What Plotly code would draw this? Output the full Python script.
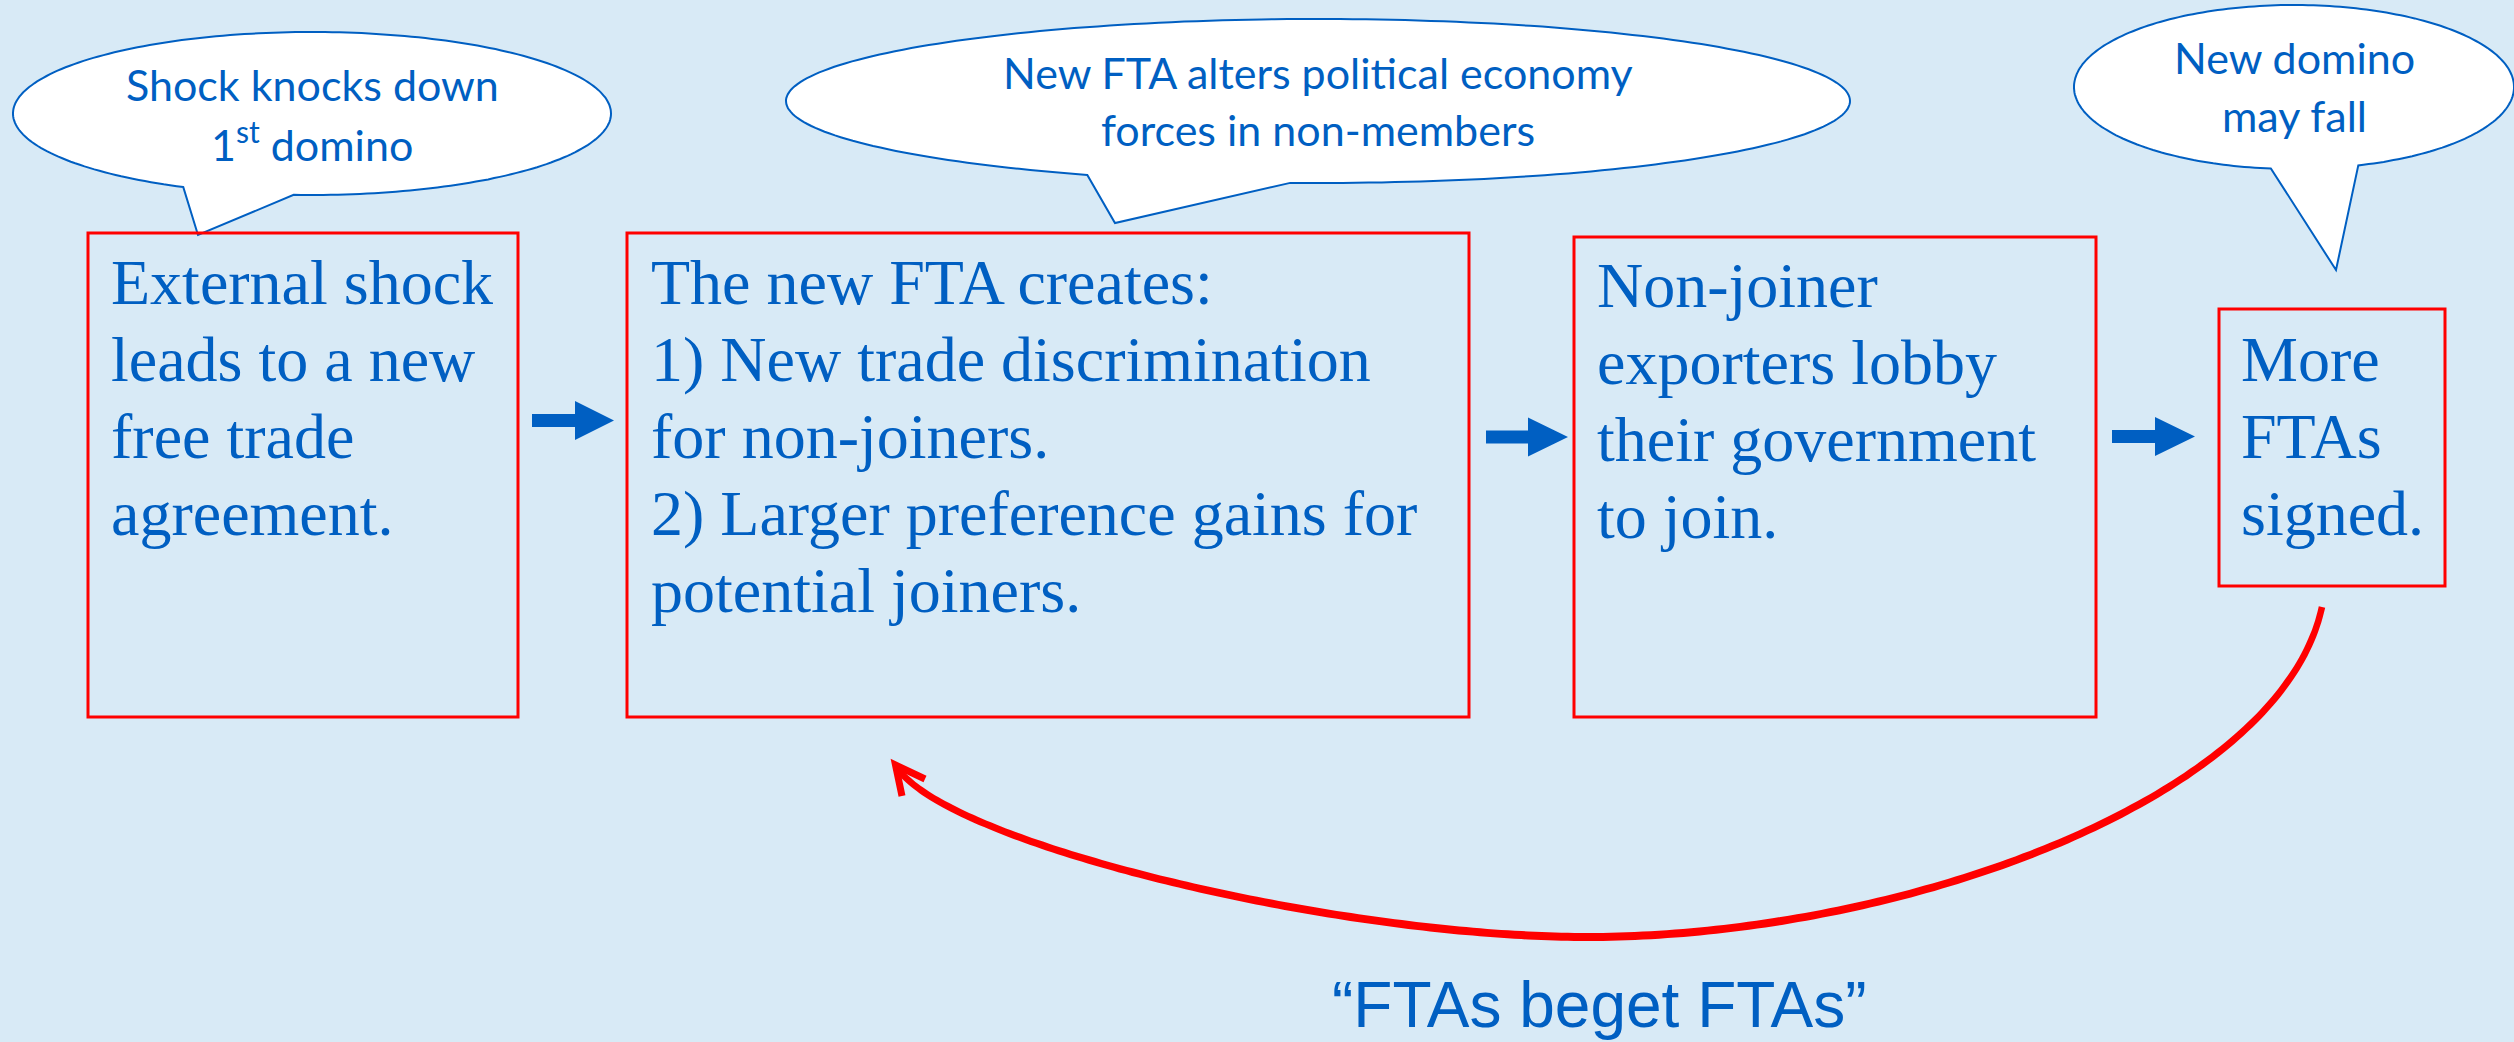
import numpy as np
import plotly.graph_objects as go

# ---------------- content ----------------
box_lines = [
    ["External shock", "leads to a new", "free trade", "agreement."],
    ["The new FTA creates:", "1) New trade discrimination", "for non-joiners.",
     "2) Larger preference gains for", "potential joiners."],
    ["Non-joiner", "exporters lobby", "their government", "to join."],
    ["More", "FTAs", "signed."],
]
callout_lines = [
    ["Shock knocks down", "1<sup>st</sup> domino"],
    ["New FTA alters political economy", "forces in non-members"],
    ["New domino", "may fall"],
]
caption = "\u201cFTAs beget FTAs\u201d"

# ---------------- styling / layout ----------------
W, H = 2514, 1042
BG = "#D8EAF6"
BLUE = "#005FC2"
RED = "#FF0000"

# boxes: x0, y0, x1, y1 (pixel space, y down)
box_geom = [(88, 233, 518, 717), (627, 233, 1469, 717), (1574, 237, 2096, 717), (2219, 309, 2445, 586)]
box_text_x = [109, 649, 1595, 2239]
box_first_baseline = [304, 304, 307, 381]
box_line_step = 77
SERIF_SIZE = 64

# callouts: cx, cy, rx, ry, tail angle start/end (deg), tip
callout_geom = [
    (312, 113.5, 299, 81.5, 115.5, 93.5, (198, 235)),
    (1318, 101, 532, 82, 115.7, 93.0, (1115, 223)),
    (2294, 87, 220, 82, 96.0, 73.0, (2336, 270)),
]
callout_baselines = [(101, 158), (89, 146), (74, 132)]
SANS_SIZE = 43

# block arrows: x shaft start, x head start, x tip, y center
block_arrows = [(532, 575, 614, 420.5), (1486, 1528, 1568, 437), (2112, 2155, 2195, 436.5)]

fig = go.Figure()
shapes = []
annotations = []

# red boxes
for (x0, y0, x1, y1) in box_geom:
    shapes.append(dict(type="rect", x0=x0, y0=y0, x1=x1, y1=y1, xref="x", yref="y",
                       line=dict(color=RED, width=3), fillcolor="rgba(0,0,0,0)", layer="above"))

# box texts (one annotation per line for exact line spacing)
for lines, tx, b0 in zip(box_lines, box_text_x, box_first_baseline):
    for i, ln in enumerate(lines):
        base = b0 + i * box_line_step
        annotations.append(dict(x=tx, y=base - 0.3375 * SERIF_SIZE, xref="x", yref="y",
                                text=ln, showarrow=False, xanchor="left", yanchor="middle",
                                font=dict(family="Liberation Serif", size=SERIF_SIZE, color=BLUE)))

# callouts
for (cx, cy, rx, ry, ta, tb, tip), lines, bases in zip(callout_geom, callout_lines, callout_baselines):
    t = np.radians(np.linspace(ta, tb + 360, 240))
    xs = cx + rx * np.cos(t)
    ys = cy + ry * np.sin(t)
    path = "M " + " L ".join(f"{x:.1f},{y:.1f}" for x, y in zip(xs, ys))
    path += f" L {tip[0]},{tip[1]} Z"
    shapes.append(dict(type="path", path=path, xref="x", yref="y",
                       line=dict(color=BLUE, width=2), fillcolor="white", layer="below"))
    for ln, base in zip(lines, bases):
        annotations.append(dict(x=cx, y=base - 0.387 * SANS_SIZE, xref="x", yref="y",
                                text=ln, showarrow=False, xanchor="center", yanchor="middle",
                                font=dict(family="Lato", size=SANS_SIZE, color=BLUE)))

# blue block arrows
for (xs0, xh, xt, yc) in block_arrows:
    sh, hh = 6.5, 19.5
    p = (f"M {xs0},{yc - sh} L {xh},{yc - sh} L {xh},{yc - hh} L {xt},{yc} "
         f"L {xh},{yc + hh} L {xh},{yc + sh} L {xs0},{yc + sh} Z")
    shapes.append(dict(type="path", path=p, xref="x", yref="y",
                       line=dict(width=0), fillcolor=BLUE, layer="above"))


# red feedback curve: two cubic Bezier segments, drawn as a ribbon
def bezier(p0, p1, p2, p3, n=120):
    t = np.linspace(0, 1, n)[:, None]
    p0, p1, p2, p3 = map(np.array, (p0, p1, p2, p3))
    return (1 - t) ** 3 * p0 + 3 * (1 - t) ** 2 * t * p1 + 3 * (1 - t) * t ** 2 * p2 + t ** 3 * p3


seg1 = bezier((2322, 607), (2280, 800), (1900, 937), (1587, 937))
seg2 = bezier((1587, 937), (1337, 937), (953, 845), (898, 769))
pts = np.vstack([seg1, seg2[1:]])
s = np.linspace(0, 1, len(pts))
half_w = (6.5 + 1.5 * np.sin(np.pi * s)) / 2
d = np.gradient(pts, axis=0)
d /= np.linalg.norm(d, axis=1)[:, None]
nrm = np.column_stack([-d[:, 1], d[:, 0]])
left = pts + nrm * half_w[:, None]
right = pts - nrm * half_w[:, None]
poly = np.vstack([left, right[::-1]])
ribbon = "M " + " L ".join(f"{x:.1f},{y:.1f}" for x, y in poly) + " Z"
shapes.append(dict(type="path", path=ribbon, xref="x", yref="y",
                   line=dict(width=0), fillcolor=RED, layer="above"))
head = "M 902,796 L 895.5,765 L 925,779"
shapes.append(dict(type="path", path=head, xref="x", yref="y",
                   line=dict(color=RED, width=7), layer="above"))

# caption
annotations.append(dict(x=1599, y=1027 - 0.3465 * 64, xref="x", yref="y", text=caption,
                        showarrow=False, xanchor="center", yanchor="middle",
                        font=dict(family="Liberation Sans", size=64, color=BLUE)))

fig.update_layout(
    width=W, height=H, margin=dict(l=0, r=0, t=0, b=0),
    paper_bgcolor=BG, plot_bgcolor=BG,
    xaxis=dict(range=[0, W], visible=False, fixedrange=True),
    yaxis=dict(range=[H, 0], visible=False, fixedrange=True),
    shapes=shapes, annotations=annotations, showlegend=False,
)

fig.write_html("out.html", config={"displayModeBar": False},
               post_script="document.body.style.margin='0';document.body.style.background='" + BG + "';")
